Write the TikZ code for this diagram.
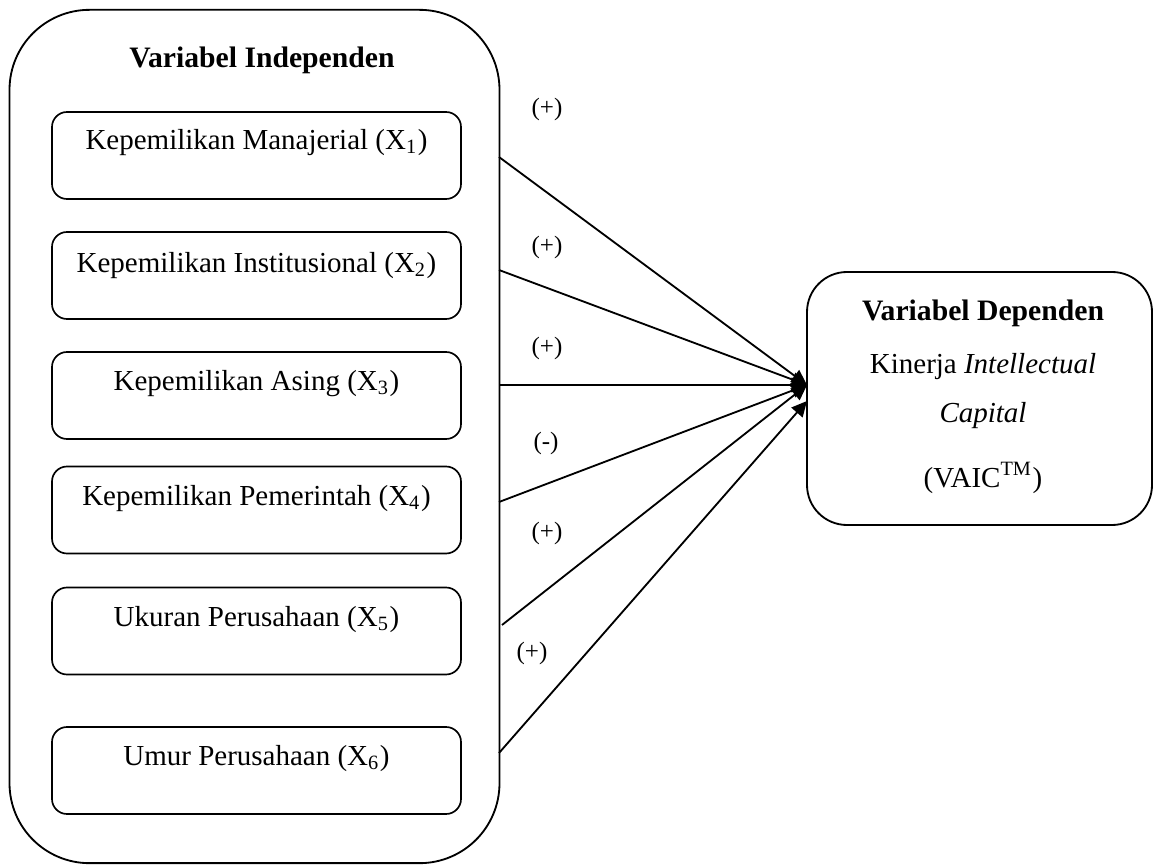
\documentclass[tikz,border=0pt]{standalone}
\usepackage{fontspec}
\setmainfont{Liberation Serif}
\usetikzlibrary{arrows.meta}
\begin{document}
\begin{tikzpicture}[x=0.3pt,y=-0.3pt,
  outerbox/.style={draw, line width=0.55pt, rounded corners=24pt, minimum width=147pt, minimum height=256pt, inner sep=0pt},
  varbox/.style={draw, line width=0.5pt, rounded corners=4.5pt, minimum width=122.7pt, minimum height=26.1pt, inner sep=0pt},
  depbox/.style={draw, line width=0.55pt, rounded corners=12pt, minimum width=103.5pt, minimum height=75.9pt, inner sep=0pt},
  txt/.style={font=\fontsize{8.7}{10}\selectfont, inner sep=0pt},
  ttl/.style={font=\fontsize{8.9}{10}\selectfont\bfseries, inner sep=0pt},
  sgn/.style={font=\fontsize{7.5}{8}\selectfont, inner sep=0pt},
  conn/.style={line width=0.55pt, -{Triangle[length=4.6pt,width=4.4pt]}}
]
\useasboundingbox (0,0) rectangle (1153,865);

% outer container
\node[outerbox] (outer) at (254.5,436.5) {};
\node[ttl] (tind) at (262,60) {Variabel Independen};

% independent variable boxes
\node[varbox] (b1) at (256.5,155.5) {};
\node[varbox] (b2) at (256.5,275.5) {};
\node[varbox] (b3) at (256.5,395.5) {};
\node[varbox] (b4) at (256.5,510) {};
\node[varbox] (b5) at (256.5,631) {};
\node[varbox] (b6) at (256.5,770.5) {};

\node[txt] (t1) at (256.5,143) {Kepemilikan Manajerial (X\textsubscript{1})};
\node[txt] (t2) at (256.5,266) {Kepemilikan Institusional (X\textsubscript{2})};
\node[txt] (t3) at (256.5,384) {Kepemilikan Asing (X\textsubscript{3})};
\node[txt] (t4) at (256.5,499) {Kepemilikan Pemerintah (X\textsubscript{4})};
\node[txt] (t5) at (256.5,620) {Ukuran Perusahaan (X\textsubscript{5})};
\node[txt] (t6) at (256.5,759) {Umur Perusahaan (X\textsubscript{6})};

% dependent box
\node[depbox] (dep) at (979.5,398.5) {};
\node[ttl] (tdep) at (983,313) {Variabel Dependen};
\node[txt] (tkin) at (983,367) {Kinerja \textit{Intellectual}};
\node[txt] (tcap) at (983,416) {\textit{Capital}};
\node[txt] (tvaic) at (983,478) {(VAIC\textsuperscript{TM})};

% connector endpoints
\coordinate (s1) at (499,157);
\coordinate (s2) at (499,270);
\coordinate (s3) at (499,385);
\coordinate (s4) at (499,502);
\coordinate (s5) at (502,625);
\coordinate (s6) at (499,753);
\coordinate (tipA) at (807,385);
\coordinate (tipB) at (807,401);

\draw[conn] (s1) -- (tipA);
\draw[conn] (s2) -- (tipA);
\draw[conn] (s3) -- (tipA);
\draw[conn] (s4) -- (tipA);
\draw[conn] (s5) -- (tipA);
\draw[conn] (s6) -- (tipB);

% signs
\node[sgn] (l1) at (547,109) {(+)};
\node[sgn] (l2) at (547,247) {(+)};
\node[sgn] (l3) at (547,348) {(+)};
\node[sgn] (l4) at (546,443) {(-)};
\node[sgn] (l5) at (547,533) {(+)};
\node[sgn] (l6) at (532,653) {(+)};
\end{tikzpicture}
\end{document}
